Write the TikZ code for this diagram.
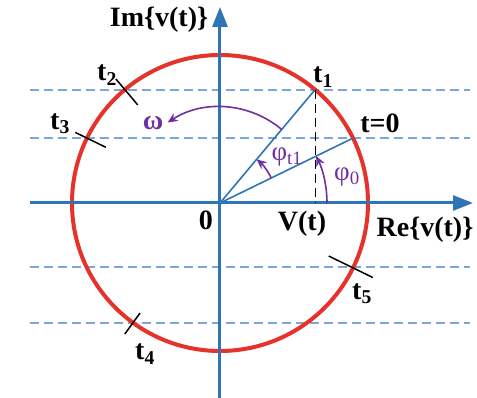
\documentclass[tikz,border=0pt]{standalone}
\usepackage{fontspec}
\setmainfont{Liberation Serif}
\usetikzlibrary{arrows.meta}
\definecolor{axisblue}{HTML}{2E75B6}
\definecolor{circred}{HTML}{E5322B}
\definecolor{levelblue}{HTML}{7AA6D8}
\definecolor{angpurple}{HTML}{7030A0}

\begin{document}
\begin{tikzpicture}[
        x=1pt, y=1pt,
        axis/.style = {draw=axisblue, line width=3pt, -{Triangle[length=20pt,width=15pt]}},
        phasor/.style = {draw=circred, line width=4pt},
        ray/.style = {draw=axisblue, line width=1.6pt},
        level/.style = {draw=levelblue, line width=1.3pt, dash pattern=on 9pt off 5pt},
        proj/.style = {draw=black, line width=1.2pt, dash pattern=on 9pt off 5pt},
        tickmark/.style = {draw=black, line width=1.5pt},
        lab/.style = {font=\fontsize{28}{28}\selectfont\bfseries, inner sep=0pt},
        anglab/.style = {font=\fontsize{27}{27}\selectfont, text=angpurple, inner sep=0pt},
        angarc/.style = {draw=angpurple, line width=1.6pt, -{Stealth[length=10pt,width=9pt]}}
    ]
        \useasboundingbox (-220,-195) rectangle (257,203);

        % Levels
        \foreach \lv in {113, 65, -64, -120}
            \draw [level] (-190,\lv) -- (250,\lv);

        % Circle
        \draw [phasor] (0,0) circle (148);

        % Points
        \coordinate (O) at (0,0);
        \coordinate (T1) at (50:148);
        \coordinate (T0) at (26:148);
        \coordinate (V) at (T1 |- O);

        % Axes
        \draw [axis] (-190,0) -- (253,0);
        \draw [axis] (0,-195) -- (0,196);

        % Phasors
        \draw [ray] (O) -- (T1);
        \draw [ray] (O) -- (T0);
        \draw [proj] (T1) -- (V);

        % Angles
        \draw [angarc] (50:96) arc[start angle=50, end angle=123, radius=96];
        \draw [angarc] (26:57) arc[start angle=26, end angle=50, radius=57];
        \draw [angarc] (0:107) arc[start angle=0, end angle=26, radius=107];

        % Time marks
        \foreach \a/\ra/\rb in {130/128/162, 154/127/161, 234/136/162, 334/121/170}
            \draw [tickmark] (\a:\ra) -- (\a:\rb);

        % Labels
        \node (im) [lab] at (-61,183) {Im\{v(t)\}};
        \node (re) [lab] at (205,-27) {Re\{v(t)\}};
        \node (zero) [lab] at (-14,-17) {0};
        \node (vt) [lab] at (82,-21) {V(t)};
        \node (t1) [lab] at (103,126) {t\textsubscript{1}};
        \node (tzero) [lab] at (160,80) {t=0};
        \node (t2) [lab] at (-113,128) {t\textsubscript{2}};
        \node (t3) [lab] at (-160,79) {t\textsubscript{3}};
        \node (t4) [lab] at (-75,-151) {t\textsubscript{4}};
        \node (t5) [lab] at (142,-91) {t\textsubscript{5}};
        \node (omega) [anglab, font=\fontsize{28}{28}\selectfont\bfseries] at (-67,80) {ω};
        \node (phit1) [anglab] at (67,46) {φ\textsubscript{t1}};
        \node (phizero) [anglab] at (127,26) {φ\textsubscript{0}};

    \end{tikzpicture}
\end{document}
